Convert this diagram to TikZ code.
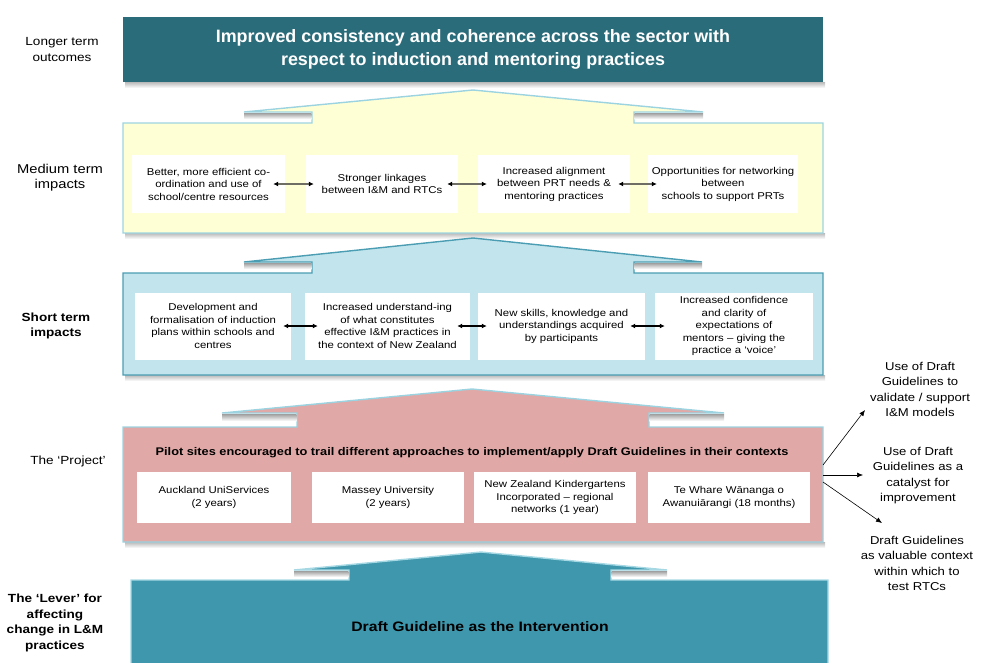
\documentclass[tikz,border=0pt]{standalone}
\usepackage{fontspec}
\setmainfont{Liberation Sans}
\newfontfamily\widefont[FakeStretch=1.15]{Liberation Sans}
\usetikzlibrary{arrows.meta}
\definecolor{topteal}{RGB}{43,108,122}
\definecolor{medfill}{RGB}{255,255,214}
\definecolor{paleblue}{RGB}{156,211,224}
\definecolor{shortfill}{RGB}{194,228,236}
\definecolor{shortline}{RGB}{75,157,179}
\definecolor{projfill}{RGB}{224,168,166}
\definecolor{leverfill}{RGB}{62,151,173}
\definecolor{leverline}{RGB}{166,216,228}
\definecolor{shaftgray}{RGB}{110,110,100}
\begin{document}
\begin{tikzpicture}[x=1pt,y=-1pt,
  inbox/.style={fill=white, draw=none, align=center, inner sep=0pt,
    font=\widefont\fontsize{9.9}{12.5}\selectfont},
  lbl/.style={align=center, inner sep=0pt, font=\widefont\fontsize{11.8}{15.5}\selectfont},
  rlbl/.style={align=center, inner sep=0pt, font=\widefont\fontsize{11.4}{15.5}\selectfont},
  dblarrow/.style={{Latex[length=5pt,width=5pt,color=black]}-{Latex[length=5pt,width=5pt,color=black]}, line width=1.3pt},
  outarrow/.style={-{Latex[length=6pt,width=5pt]}, line width=0.6pt},
  eave/.style={top color=gray!75, bottom color=white, draw=none},
  boxshadow/.style={top color=gray!55, bottom color=white, draw=none},
  levelline/.style={line width=1.4pt, line join=miter}
]
\useasboundingbox (0,0) rectangle (981,662);

% ---------- Longer term outcomes ----------
\fill[boxshadow] (125,82) rectangle (825,88);
\node[fill=topteal, minimum width=700pt, minimum height=65pt, inner sep=0pt,
  text=white, align=center, font=\bfseries\fontsize{17.9}{23}\selectfont]
  (top) at (473,49.5) {Improved consistency and coherence across the sector with\\respect to induction and mentoring practices};

% ---------- Medium term ----------
\fill[boxshadow] (125,233) rectangle (825,239);
\draw[levelline, draw=paleblue, fill=medfill]
  (123,233) -- (123,123) -- (312,123) -- (312,112) -- (244,112) -- (473,90)
  -- (703,112) -- (634,112) -- (634,123) -- (823,123) -- (823,233) -- cycle;
\fill[eave] (244,113) rectangle (311.3,119);
\fill[eave] (634.7,113) rectangle (703,119);

\node[inbox, minimum width=153pt, minimum height=58pt] (m1) at (208.5,184)
  {Better, more efficient co-\\ordination and use of\\school/centre resources};
\node[inbox, minimum width=152pt, minimum height=58pt] (m2) at (382,184)
  {Stronger linkages\\between I\&M and RTCs};
\node[inbox, minimum width=152pt, minimum height=58pt] (m3) at (554,184)
  {Increased alignment\\between PRT needs \&\\mentoring practices};
\node[inbox, minimum width=150pt, minimum height=58pt] (m4) at (723,184)
  {Opportunities for networking\\between\\schools to support PRTs};
\draw[dblarrow, draw=shaftgray] ([xshift=-12pt]m1.east) -- ([xshift=8pt]m2.west);
\draw[dblarrow, draw=shaftgray] ([xshift=-11pt]m2.east) -- ([xshift=9pt]m3.west);
\draw[dblarrow, draw=shaftgray] ([xshift=-12pt]m3.east) -- ([xshift=9pt]m4.west);

% ---------- Short term ----------
\fill[boxshadow] (125,375) rectangle (825,381);
\draw[levelline, draw=shortline, fill=shortfill]
  (123,375) -- (123,273) -- (312,273) -- (312,262) -- (244,262) -- (473,238)
  -- (702,262) -- (634,262) -- (634,273) -- (823,273) -- (823,375) -- cycle;
\fill[eave] (244,263) rectangle (311.3,269);
\fill[eave] (634.7,263) rectangle (702,269);

\node[inbox, minimum width=156pt, minimum height=67pt] (s1) at (213,326)
  {Development and\\formalisation of induction\\plans within schools and\\centres};
\node[inbox, minimum width=165pt, minimum height=67pt] (s2) at (387.5,326)
  {Increased understand-ing\\of what constitutes\\effective I\&M practices in\\the context  of New Zealand};
\node[inbox, minimum width=167pt, minimum height=67pt] (s3) at (561.5,326)
  {New skills, knowledge and\\understandings acquired\\by participants};
\node[inbox, minimum width=158pt, minimum height=67pt] (s4) at (734,326)
  {Increased confidence\\and clarity of\\expectations of\\mentors – giving the\\practice a ‘voice’};
\draw[dblarrow, draw=black] ([xshift=-8pt]s1.east) -- ([xshift=13pt]s2.west);
\draw[dblarrow, draw=black] ([xshift=-13pt]s2.east) -- ([xshift=9pt]s3.west);
\draw[dblarrow, draw=black] ([xshift=-15pt]s3.east) -- ([xshift=10pt]s4.west);

% ---------- The Project ----------
\fill[boxshadow] (125,542) rectangle (825,548);
\draw[levelline, draw=paleblue, fill=projfill]
  (123,542) -- (123,427) -- (297,427) -- (297,413) -- (222,413) -- (472,389)
  -- (724,413) -- (649,413) -- (649,427) -- (823,427) -- (823,542) -- cycle;
\fill[eave] (222,414) rectangle (296.3,421);
\fill[eave] (649.7,414) rectangle (724,421);

\node[inner sep=0pt, font=\widefont\bfseries\fontsize{11.1}{13}\selectfont] (phead) at (472,453)
  {Pilot sites encouraged to trail different approaches to implement/apply Draft Guidelines in their  contexts};
\node[inbox, minimum width=154pt, minimum height=51pt] (p1) at (214,497.5)
  {Auckland UniServices\\(2 years)};
\node[inbox, minimum width=152pt, minimum height=51pt] (p2) at (388,497.5)
  {Massey University\\(2 years)};
\node[inbox, minimum width=162pt, minimum height=51pt] (p3) at (555,497.5)
  {New Zealand Kindergartens\\Incorporated – regional\\networks (1 year)};
\node[inbox, minimum width=162pt, minimum height=51pt] (p4) at (729,497.5)
  {Te Whare Wānanga o\\Awanuiārangi (18 months)};

% ---------- The Lever ----------
\draw[levelline, draw=leverline, fill=leverfill]
  (131,668) -- (131,580) -- (349,580) -- (349,570) -- (294,570) -- (481,552)
  -- (667,570) -- (611,570) -- (611,580) -- (828,580) -- (828,668) -- cycle;
\fill[eave] (294,571) rectangle (348.3,577);
\fill[eave] (611.7,571) rectangle (667,577);
\node[inner sep=0pt, font=\widefont\bfseries\fontsize{13.7}{15}\selectfont] (lever) at (480,627)
  {Draft Guideline as the Intervention};

% ---------- Left labels ----------
\node[lbl] (llong) at (62,49.5) {Longer term\\outcomes};
\node[lbl, font=\widefont\fontsize{12.8}{15.5}\selectfont] (lmed) at (60,177.5) {Medium term\\impacts};
\node[lbl, font=\widefont\bfseries\fontsize{11.8}{14.5}\selectfont] (lshort) at (56,326) {Short term\\impacts};
\node[lbl] (lproj) at (68,461) {The ‘Project’};
\node[lbl, font=\widefont\bfseries\fontsize{11.8}{15.5}\selectfont] (llever) at (55,623)
  {The ‘Lever’ for\\affecting\\change in L\&M\\practices};

% ---------- Right side outcomes ----------
\coordinate (src1) at (823,465);
\coordinate (src2) at (823,475);
\coordinate (src3) at (823,482);
\coordinate (tip1) at (865,410);
\coordinate (tip2) at (863,475);
\coordinate (tip3) at (882,523);
\draw[outarrow] (src1) -- (tip1);
\draw[outarrow] (src2) -- (tip2);
\draw[outarrow] (src3) -- (tip3);
\node[rlbl] (r1) at (920,389.5) {Use of Draft\\Guidelines to\\validate / support\\I\&M models};
\node[rlbl] (r2) at (918,475.5) {Use of Draft\\Guidelines as a\\catalyst for\\improvement};
\node[rlbl] (r3) at (917,563.5) {Draft Guidelines\\as valuable context\\within which to\\test RTCs};
\end{tikzpicture}
\end{document}
